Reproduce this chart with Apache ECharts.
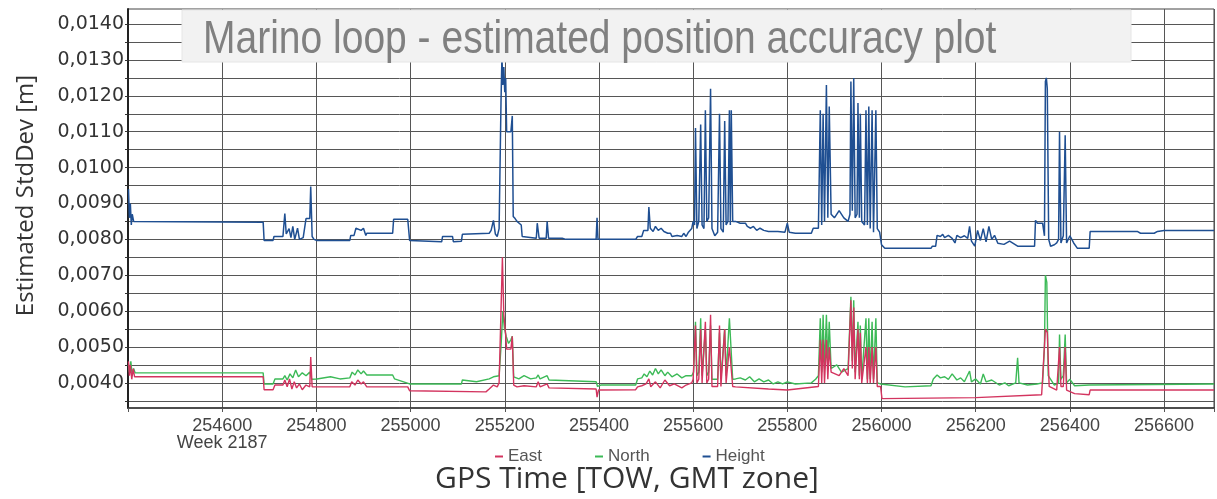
<!DOCTYPE html>
<html>
<head>
<meta charset="utf-8">
<script src="https://cdn.jsdelivr.net/npm/echarts@6/dist/echarts.min.js"></script>
<style>html,body{margin:0;padding:0;background:#fff;}#c{width:1217px;height:499px;}</style>
</head>
<body>
<div id="c"></div>
<script>
// ---- data (GPS time of week [s], estimated std dev [m]) ----
const titleText = 'Marino loop - estimated position accuracy plot';
const seriesNames = ['East', 'North', 'Height'];
const weekLabel = 'Week 2187';
const yLabelValues = [0.004, 0.005, 0.006, 0.007, 0.008, 0.009, 0.010, 0.011, 0.012, 0.013, 0.014];
const yGridValues = [0.0035, 0.004, 0.0045, 0.005, 0.0055, 0.006, 0.0065, 0.007, 0.0075, 0.008, 0.0085, 0.009, 0.0095, 0.010, 0.0105, 0.011, 0.0115, 0.012, 0.0125, 0.013, 0.0135, 0.014];

const heightTime = [254401,254403,254405,254407,254409,254412,254416,254687,254689,254708,254710,254729,254733,254736,254742,254746,254750,254754,254760,254764,254772,254778,254786,254788,254791,254795,254801,254871,254873,254880,254884,254895,254900,254905,254907,254962,254964,254994,254998,255066,255068,255089,255091,255108,255110,255167,255171,255176,255180,255184,255188,255192,255194,255196,255198,255200,255202,255204,255213,255216,255218,255222,255226,255235,255237,255241,255267,255269,255273,255288,255290,255293,255322,255326,255330,255394,255396,255398,255478,255482,255491,255495,255504,255506,255509,255515,255520,255526,255532,255538,255542,255546,255552,255555,255566,255576,255580,255585,255590,255597,255600,255603,255605,255608,255612,255616,255619,255623,255626,255629,255633,255637,255640,255646,255652,255656,255659,255664,255667,255670,255674,255677,255679,255681,255684,255690,255700,255711,255715,255722,255728,255735,255742,255750,255760,255780,255795,255800,255804,255817,255851,255855,255866,255870,255873,255876,255879,255883,255886,255889,255893,255900,255910,255920,255929,255933,255935,255938,255941,255944,255948,255950,255953,255955,255958,255964,255967,255970,255973,255976,255980,255983,255988,255991,255996,256000,256007,256105,256108,256115,256118,256125,256130,256134,256142,256150,256156,256160,256168,256176,256183,256187,256191,256198,256204,256210,256216,256222,256228,256234,256240,256247,256260,256272,256289,256325,256327,256331,256342,256346,256348,256350,256352,256355,256359,256367,256372,256376,256378,256381,256386,256390,256393,256400,256408,256416,256441,256443,256543,256550,256579,256586,256600,256706];
const heightValues = [0.0094,0.0086,0.0090,0.0084,0.0087,0.0085,0.00848,0.00848,0.00797,0.00797,0.00808,0.00808,0.00872,0.00815,0.00830,0.00805,0.00836,0.00800,0.00831,0.00800,0.00805,0.00858,0.00858,0.00947,0.00808,0.00800,0.00797,0.00797,0.00811,0.00811,0.00831,0.00825,0.00831,0.00811,0.00817,0.00817,0.00856,0.00856,0.00797,0.00793,0.00808,0.00808,0.00793,0.00795,0.00814,0.00817,0.00825,0.00853,0.00815,0.00808,0.0083,0.0118,0.0131,0.0123,0.0128,0.0121,0.0125,0.0110,0.0110,0.01144,0.00864,0.00858,0.0085,0.0084,0.00808,0.00803,0.00803,0.00845,0.00803,0.00803,0.0085,0.00803,0.00803,0.00808,0.0080,0.0080,0.0086,0.0080,0.0080,0.00808,0.00808,0.00825,0.00825,0.0089,0.00831,0.00822,0.00836,0.00825,0.00831,0.00822,0.00825,0.00817,0.00817,0.00808,0.00811,0.00808,0.00817,0.00808,0.0082,0.0083,0.0085,0.0084,0.0111,0.0083,0.0085,0.0112,0.0084,0.0083,0.0116,0.0085,0.0086,0.0122,0.0083,0.0081,0.0082,0.0115,0.0083,0.0082,0.0113,0.0084,0.0085,0.0116,0.0084,0.0116,0.0085,0.0085,0.00845,0.00845,0.00836,0.00831,0.00836,0.00825,0.00831,0.00825,0.00822,0.00822,0.0082,0.00845,0.0082,0.00817,0.00817,0.00831,0.00831,0.0116,0.0084,0.0115,0.0085,0.0123,0.0086,0.0117,0.0087,0.0086,0.0088,0.0086,0.0085,0.0087,0.0124,0.0088,0.0125,0.0086,0.0087,0.0118,0.0086,0.0115,0.0085,0.0084,0.0116,0.0084,0.0117,0.0083,0.0116,0.0082,0.0116,0.0083,0.0082,0.00785,0.00775,0.00775,0.00781,0.00781,0.00811,0.00808,0.00814,0.00805,0.00811,0.00803,0.0079,0.00811,0.00805,0.0081,0.00803,0.00836,0.00795,0.00781,0.00825,0.00797,0.0083,0.00793,0.00836,0.0080,0.00811,0.00789,0.00786,0.00795,0.00781,0.00781,0.00853,0.00845,0.00845,0.0081,0.0124,0.0125,0.0122,0.0080,0.00781,0.00785,0.0079,0.0080,0.0110,0.0079,0.0081,0.0109,0.0079,0.0081,0.0079,0.00775,0.00775,0.00822,0.00822,0.00817,0.00817,0.00822,0.00825,0.00825];

const eastTime = [254401,254403,254405,254408,254411,254414,254687,254689,254708,254712,254729,254733,254738,254743,254748,254753,254758,254764,254770,254778,254786,254788,254791,254801,254871,254875,254882,254888,254895,254900,254907,254994,254998,255160,255167,255176,255184,255188,255192,255195,255198,255201,255204,255213,255216,255219,255226,255241,255267,255271,255275,255290,255294,255298,255394,255396,255399,255478,255482,255491,255500,255506,255510,255520,255530,255540,255550,255560,255576,255585,255597,255600,255605,255608,255612,255616,255619,255626,255629,255633,255637,255640,255652,255656,255659,255667,255670,255677,255681,255684,255690,255760,255800,255866,255870,255873,255876,255879,255883,255886,255889,255893,255910,255920,255929,255935,255938,255941,255944,255950,255953,255955,255958,255967,255970,255973,255976,255980,255983,255988,255991,255998,256001,256200,256340,256348,256352,256356,256372,256378,256381,256386,256390,256393,256410,256441,256443,256706];
const eastValues = [0.0046,0.0042,0.0045,0.0041,0.0044,0.00417,0.00417,0.00381,0.00381,0.00394,0.00394,0.00408,0.00389,0.00411,0.00383,0.00403,0.00386,0.00397,0.00381,0.00394,0.00389,0.00472,0.00389,0.00389,0.00389,0.00403,0.00394,0.00408,0.00397,0.00403,0.00389,0.00389,0.00378,0.00375,0.00383,0.00394,0.00389,0.0040,0.0060,0.0075,0.0059,0.0055,0.00494,0.00494,0.0053,0.00394,0.00389,0.00392,0.00389,0.00403,0.00389,0.00397,0.00386,0.00383,0.00383,0.0036,0.0038,0.00381,0.00389,0.00392,0.00397,0.00411,0.00389,0.00403,0.00386,0.00408,0.00392,0.00397,0.00386,0.00394,0.0040,0.0041,0.0056,0.0040,0.0041,0.0055,0.0040,0.0057,0.0040,0.0041,0.0059,0.0039,0.0039,0.0056,0.0039,0.0055,0.0040,0.0050,0.0050,0.0039,0.00389,0.00383,0.0038,0.0039,0.0052,0.0040,0.0052,0.0040,0.0052,0.0041,0.0050,0.0043,0.0042,0.0044,0.0042,0.0063,0.0044,0.0061,0.0041,0.0055,0.0041,0.0054,0.0040,0.0050,0.0040,0.0050,0.0040,0.0050,0.0040,0.0050,0.0039,0.0039,0.00356,0.00359,0.00367,0.0055,0.0054,0.0039,0.0038,0.0050,0.0039,0.0039,0.0050,0.0038,0.0037,0.00367,0.0038,0.0038];

const northTime = [254401,254403,254406,254409,254412,254415,254687,254689,254708,254712,254729,254733,254738,254744,254750,254756,254762,254770,254778,254786,254790,254801,254830,254850,254871,254876,254882,254888,254895,254900,254907,254962,254966,254998,255108,255110,255140,255167,255176,255188,255192,255196,255199,255203,255208,255213,255216,255219,255230,255241,255255,255267,255271,255275,255290,255294,255298,255394,255397,255404,255478,255482,255491,255496,255502,255508,255514,255520,255526,255532,255540,255546,255555,255566,255576,255585,255597,255601,255605,255608,255612,255616,255619,255626,255629,255633,255637,255640,255652,255656,255659,255667,255670,255677,255681,255684,255690,255700,255711,255720,255730,255740,255750,255760,255770,255780,255790,255800,255817,255851,255860,255866,255870,255873,255876,255879,255883,255886,255889,255893,255905,255915,255929,255935,255938,255941,255944,255950,255953,255955,255958,255967,255970,255973,255976,255980,255983,255988,255991,255998,256001,256050,256105,256110,256118,256125,256134,256142,256150,256160,256168,256176,256187,256191,256200,256210,256216,256222,256234,256250,256262,256270,256285,256289,256292,256310,256330,256342,256346,256348,256351,256354,256367,256376,256378,256381,256386,256390,256393,256400,256410,256441,256443,256706];
const northValues = [0.0045,0.0043,0.0046,0.0042,0.0044,0.00428,0.00428,0.00397,0.00397,0.00411,0.00411,0.0042,0.00408,0.00425,0.00414,0.00436,0.00417,0.00428,0.0042,0.0043,0.0041,0.00411,0.00417,0.00411,0.00414,0.0043,0.00422,0.00436,0.00425,0.00433,0.00422,0.00422,0.00411,0.00397,0.00397,0.00408,0.00403,0.00411,0.00417,0.0042,0.0050,0.0060,0.00555,0.0053,0.0051,0.0052,0.0053,0.00417,0.00411,0.0042,0.00411,0.00414,0.00422,0.00411,0.0042,0.00408,0.00403,0.00403,0.0039,0.00394,0.00394,0.00411,0.00414,0.00425,0.00417,0.00433,0.00422,0.0044,0.00425,0.00436,0.0042,0.0043,0.00417,0.00425,0.00414,0.0042,0.0042,0.0043,0.0057,0.0042,0.0043,0.0058,0.0042,0.0055,0.0042,0.0043,0.0056,0.0041,0.0041,0.0054,0.0041,0.0055,0.0042,0.0058,0.0058,0.0041,0.00411,0.00414,0.00408,0.00417,0.00403,0.00411,0.00403,0.00408,0.00397,0.00403,0.00397,0.00403,0.00397,0.0040,0.0041,0.0042,0.0058,0.0043,0.0059,0.0044,0.0059,0.0045,0.0057,0.0044,0.0045,0.0043,0.0044,0.0064,0.0046,0.0063,0.0043,0.0057,0.0042,0.0056,0.0041,0.0058,0.0041,0.0058,0.0041,0.0057,0.0041,0.0058,0.0040,0.00397,0.00392,0.00389,0.00392,0.00411,0.00422,0.00414,0.00417,0.0041,0.00425,0.00408,0.00414,0.00403,0.00433,0.00403,0.00411,0.00397,0.00425,0.00403,0.00408,0.00394,0.0040,0.00392,0.0040,0.0047,0.0040,0.00394,0.00397,0.0040,0.0050,0.0070,0.0068,0.0042,0.00394,0.0040,0.00535,0.0041,0.0042,0.00535,0.0040,0.0041,0.00392,0.00394,0.00397,0.00397];

function pairs(t, v) { return t.map((x, i) => [x, v[i]]); }

const chart = echarts.init(document.getElementById('c'), null, { renderer: 'canvas' });
const gridColor = '#565656';
chart.setOption({
  animation: false,
  backgroundColor: '#ffffff',
  grid: { left: 128, top: 9, right: 0, bottom: 88, show: true, borderColor: '#444', borderWidth: 1, backgroundColor: 'transparent' },
  legend: {
    data: seriesNames,
    left: 490, top: 443,
    icon: 'rect', itemWidth: 8, itemHeight: 2, itemGap: 53,
    textStyle: { fontFamily: 'Liberation Sans', fontSize: 17, color: '#555' }
  },
  xAxis: {
    type: 'value', min: 254400, max: 256706, interval: 200,
    name: 'GPS Time [TOW, GMT zone]', nameLocation: 'middle', nameGap: 56,
    nameTextStyle: { fontFamily: 'Open Sans', fontSize: 30, color: '#333', padding: [0, 88, 0, 0] },
    axisLine: { show: true, lineStyle: { color: '#333', width: 1.5 } },
    axisTick: { show: true, length: 4, lineStyle: { color: '#555' } },
    axisLabel: {
      fontFamily: 'Liberation Sans', fontSize: 18, color: '#444', margin: 10, lineHeight: 17,
      formatter: function (v) {
        if (v === 254400 || v % 200 !== 0) return '';
        if (v === 254600) return v + '\n' + weekLabel;
        return String(v);
      }
    },
    splitLine: { show: true, lineStyle: { color: gridColor, width: 1 } }
  },
  yAxis: {
    type: 'value', min: 0.0033, max: 0.01442,
    name: 'Estimated StdDev [m]', nameLocation: 'middle', nameGap: 90,
    nameTextStyle: { fontFamily: 'Open Sans', fontSize: 24, color: '#333', padding: [0, 0, 0, 26] },
    axisLine: { show: true, lineStyle: { color: '#222', width: 2 } },
    axisTick: { show: true, length: 3, customValues: yGridValues, lineStyle: { color: '#333' } },
    axisLabel: {
      customValues: yLabelValues, fontFamily: 'DejaVu Sans', fontSize: 19, color: '#333', margin: 4,
      formatter: function (v) { return v.toFixed(4).replace('.', ','); }
    },
    splitLine: { show: true, lineStyle: { color: gridColor, width: 1 } }
  },
  graphic: [
    { type: 'rect', shape: { x: 182, y: 10, width: 949, height: 52 }, style: { fill: '#f2f2f2', stroke: '#e6e6e6', lineWidth: 1 }, z: 100 },
    { type: 'text', x: 203, y: 40, scaleY: 1.2, z: 101,
      style: { text: titleText, font: '39px "Liberation Sans", Arial, sans-serif', fill: '#808080', verticalAlign: 'middle', align: 'left' } }
  ],
  series: [
    { name: 'North', type: 'line', data: pairs(northTime, northValues), showSymbol: false, color: '#3cba57', lineStyle: { width: 1.4 }, z: 3 },
    { name: 'East', type: 'line', data: pairs(eastTime, eastValues), showSymbol: false, color: '#d3345f', lineStyle: { width: 1.4 }, z: 4 },
    { name: 'Height', type: 'line', data: pairs(heightTime, heightValues), showSymbol: false, color: '#1f4f92', lineStyle: { width: 1.5 }, z: 5 }
  ]
});
</script>
</body>
</html>
